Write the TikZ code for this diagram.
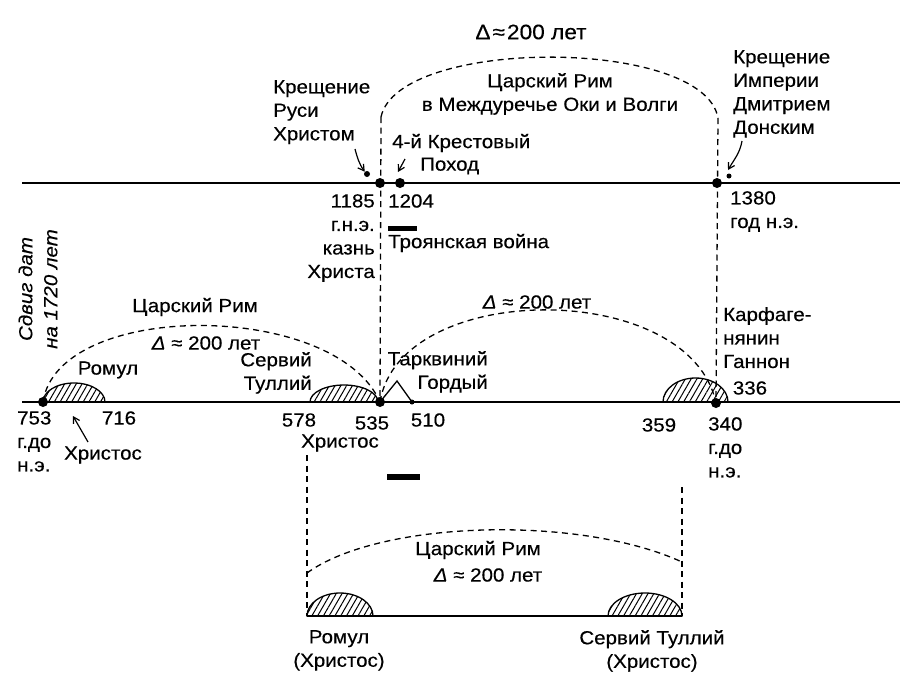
\documentclass[tikz,border=0pt]{standalone}
\usepackage{fontspec}
\setmainfont{Liberation Sans}[FakeStretch=1.08,FakeBold=0.3]
\usetikzlibrary{arrows.meta,patterns.meta}
\newcommand{\halfdome}[5]{% x1, x2, y0, h, style
  \draw[#5] ({#1},{#3}) .. controls ({#1},{#3-0.552*#4}) and ({(#1+#2)/2-0.552*(#2-#1)/2},{#3-#4}) .. ({(#1+#2)/2},{#3-#4})
    .. controls ({(#1+#2)/2+0.552*(#2-#1)/2},{#3-#4}) and ({#2},{#3-0.552*#4}) .. ({#2},{#3}) -- cycle;}
\begin{document}
\begin{tikzpicture}[x=1pt,y=-1pt,
  every node/.style={inner sep=0pt, font=\fontsize{19}{23.5}\selectfont},
  axis/.style={line width=1.6pt},
  dashline/.style={line width=1.3pt, dash pattern=on 6pt off 4.5pt},
  bigdot/.style={circle, fill, minimum size=10pt, inner sep=0pt},
  smalldot/.style={circle, fill, minimum size=5pt, inner sep=0pt},
  dome/.style={line width=1.3pt, pattern={Lines[angle=60,distance=5pt,line width=1pt]}},
  blackbar/.style={fill=black, draw=none},
  pointer/.style={line width=1.2pt, -{Straight Barb[length=6pt,width=7pt]}},
]
\fill[white] (0,0) rectangle (900,686);
\useasboundingbox (0,0) rectangle (900,686);

% ---------- axes ----------
\coordinate (tL) at (22,183); \coordinate (tR) at (900,183);
\coordinate (mL) at (22,402); \coordinate (mR) at (900,402);
\coordinate (bL) at (307,616); \coordinate (bR) at (682,616);
\draw[axis] (tL) -- (tR);
\draw[axis] (mL) -- (mR);
\draw[axis] (bL) -- (bR);

% ---------- domes ----------
\halfdome{43}{105}{402}{19}{dome}
\halfdome{310}{378}{402}{17}{dome}
\halfdome{663}{728}{402}{24}{dome}
\halfdome{307}{373}{616}{23}{dome}
\halfdome{608}{682}{616}{23}{dome}

% ---------- dots ----------
\node[bigdot] (d1185) at (380,183) {};
\node[bigdot] (d1204) at (400,183) {};
\node[bigdot] (d1380) at (717,183) {};
\node[smalldot, minimum size=6pt] (drusi) at (367,174) {};
\node[smalldot, minimum size=5pt] (dimp) at (729,176) {};
\node[bigdot] (d753) at (43,402) {};
\node[bigdot] (d535) at (380,402) {};
\node[smalldot] (d510) at (412,402) {};
\node[bigdot] (d340) at (716,403) {};

% ---------- Tarquinius ----------
\coordinate (tq) at (397,381);
\draw[line width=1.3pt] (d535.center) -- (tq) -- (d510.center);

% ---------- dashed arcs and verticals ----------
\coordinate (tarcL) at (381,117);
\coordinate (tarcR) at (718,118);
\draw[dashline] (tarcL) .. controls (398,37) and (704,37) .. (tarcR);
\draw[dashline] (tarcL) -- (d535.center);
\draw[dashline] (tarcR) -- (d340.center);
\draw[dashline] (d753.center) .. controls (58,300) and (335,300) .. (d535.center);
\draw[dashline] (d535.center) .. controls (400,279) and (690,279) .. (d340.center);
\coordinate (bvL) at (307,455);
\coordinate (bvR) at (682,487);
\draw[dashline] (bvL) -- (bL);
\draw[dashline] (bvR) -- (bR);
\coordinate (barcL) at (307,573);
\coordinate (barcR) at (682,562);
\draw[dashline] (barcL) .. controls (380,520) and (580,515) .. (barcR);

% ---------- black bars ----------
\node[blackbar, minimum width=29pt, minimum height=5pt, anchor=west] (bar1) at (388,228) {};
\node[blackbar, minimum width=33pt, minimum height=6pt, anchor=west] (bar2) at (387,477) {};

% ---------- top labels ----------
\node[font=\fontsize{21}{25}\selectfont] (topdelta) at (531,32) {Δ\hspace{2pt}≈\hspace{2pt}200 лет};
\node[align=center] (toprim) at (550,94) {Царский Рим\\в Междуречье Оки и Волги};
\node[align=left, anchor=north west] (rusi) at (273,80) {Крещение\\Руси\\Христом};
\node[anchor=west] (krestA) at (392,143) {4-й Крестовый};
\node[anchor=west] (krestB) at (420,166) {Поход};
\node[align=right, anchor=north east] (y1185) at (375,194) {1185\\г.н.э.\\казнь\\Христа};
\node[anchor=west] (y1204) at (388,201) {1204};
\node[anchor=west] (troy) at (388,243) {Троянская война};
\node[align=left, anchor=north west] (imp) at (733,50) {Крещение\\Империи\\Дмитрием\\Донским};
\node[align=left, anchor=north west] (y1380) at (730,191) {1380\\год н.э.};

% arrows
\coordinate (aRs) at (355,149);
\coordinate (aKs) at (405,159);
\coordinate (aKe) at (398,172);
\coordinate (aDs) at (742,141);
\coordinate (aDe) at (728,170);
\draw[pointer] (aRs) to[out=-75,in=125] (drusi.north west);
\draw[pointer] (aKs) -- (aKe);
\draw[pointer] (aDs) to[out=-100,in=60] (aDe);

% ---------- middle labels ----------
\node[rotate=90, align=center, font=\fontsize{19}{25}\selectfont\itshape] (shift) at (38,289) {Сдвиг дат\\на 1720 лет};
\node (lrim) at (195,307) {Царский Рим};
\node (ldelta) at (206,343) {\textit{Δ} ≈ 200 лет};
\node (romul) at (108,370) {Ромул};
\node[align=left, anchor=north west] (y753) at (17,411) {753\\г.до\\н.э.};
\node (y716) at (119,418) {716};
\node (xr1) at (103,455) {Христос};
\coordinate (aXs) at (88,442);
\coordinate (aXe) at (73,416);
\draw[pointer] (aXs) -- (aXe);
\node[align=right, anchor=north east] (serv) at (312,352) {Сервий\\Туллий};
\node (y578) at (299,420) {578};
\node (y535) at (372,423) {535};
\node (xr2) at (340,443) {Христос};
\node (y510) at (428,420) {510};
\node[align=right, anchor=north east] (tarq) at (488,351) {Тарквиний\\Гордый};
\node (mdelta) at (537,302) {\textit{Δ} ≈ 200 лет};
\node[align=left, anchor=north west] (karf) at (723,307) {Карфаге-\\нянин\\Ганнон};
\node (y336) at (750,388) {336};
\node (y359) at (659,425) {359};
\node[align=left, anchor=north west] (y340) at (708,417) {340\\г.до\\н.э.};

% ---------- bottom labels ----------
\node (brim) at (478,550) {Царский Рим};
\node (bdelta) at (488,575) {\textit{Δ} ≈ 200 лет};
\node[align=center, anchor=north] (bromul) at (339,630) {Ромул\\(Христос)};
\node[align=center, anchor=north] (bserv) at (652,630) {Сервий Туллий\\(Христос)};
\end{tikzpicture}
\end{document}
